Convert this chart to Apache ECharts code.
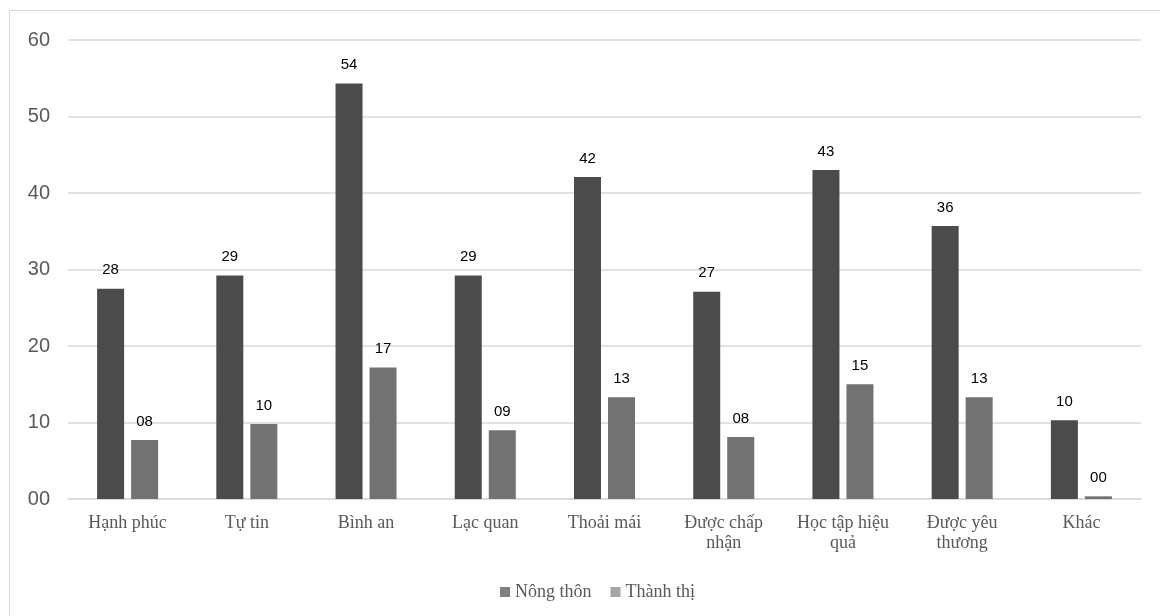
<!DOCTYPE html>
<html>
<head>
<meta charset="utf-8">
<script src="https://cdn.jsdelivr.net/npm/echarts@6/dist/echarts.min.js"></script>
<style>
html,body{margin:0;padding:0;background:#fff;}
#chart{width:1160px;height:616px;}
</style>
</head>
<body>
<div id="chart"></div>
<script>
const categories = ['Hạnh phúc', 'Tự tin', 'Bình an', 'Lạc quan', 'Thoải mái', 'Được chấp nhận', 'Học tập hiệu quả', 'Được yêu thương', 'Khác'];
const seriesNames = ['Nông thôn', 'Thành thị'];
const nongThon = [27.5, 29.2, 54.3, 29.2, 42.1, 27.1, 43.0, 35.7, 10.3];
const thanhThi = [7.7, 9.8, 17.2, 9.0, 13.3, 8.1, 15.0, 13.3, 0.35];
const yTicks = { min: 0, max: 60, interval: 10 };

const pad2 = v => String(Math.round(v)).padStart(2, '0');
// simple word wrap: at most 12 characters per line
function wrap(s) {
  const words = s.split(' ');
  const lines = [];
  let cur = '';
  words.forEach(w => {
    const t = cur ? cur + ' ' + w : w;
    if (t.length > 12 && cur) { lines.push(cur); cur = w; } else { cur = t; }
  });
  if (cur) lines.push(cur);
  return lines.join('\n');
}
const chart = echarts.init(document.getElementById('chart'));
const labelStyle = {
  show: true, position: 'top', distance: 11,
  fontFamily: 'Liberation Sans, Arial, sans-serif', fontSize: 15, color: '#000',
  formatter: p => pad2(p.value)
};
chart.setOption({
  animation: false,
  graphic: [{
    type: 'rect', shape: { x: 9.5, y: 10.5, width: 1170, height: 630 },
    style: { fill: 'none', stroke: '#d9d9d9', lineWidth: 1 }, silent: true
  }],
  grid: { left: 68, right: 19, top: 40, bottom: 117 },
  legend: {
    top: 578, left: 495,
    itemWidth: 10, itemHeight: 10, itemGap: 19,
    textStyle: { fontFamily: 'Liberation Serif, Times New Roman, serif', fontSize: 18, color: '#595959' },
    data: [
      { name: seriesNames[0], icon: 'rect', itemStyle: { color: '#808080' } },
      { name: seriesNames[1], icon: 'rect', itemStyle: { color: '#a6a6a6' } }
    ]
  },
  xAxis: {
    type: 'category', data: categories,
    axisLine: { lineStyle: { color: '#d9d9d9', width: 1.5 } },
    axisTick: { show: false },
    axisLabel: {
      interval: 0, margin: 14, lineHeight: 20, formatter: v => wrap(v),
      fontFamily: 'Liberation Serif, Times New Roman, serif', fontSize: 18, color: '#595959'
    }
  },
  yAxis: {
    type: 'value', min: yTicks.min, max: yTicks.max, interval: yTicks.interval,
    axisLine: { show: false }, axisTick: { show: false },
    splitLine: { lineStyle: { color: '#d9d9d9', width: 1.5 } },
    axisLabel: {
      margin: 18, fontFamily: 'Liberation Sans, Arial, sans-serif', fontSize: 20, color: '#595959',
      formatter: v => pad2(v)
    }
  },
  series: [
    { name: seriesNames[0], type: 'bar', data: nongThon, barWidth: 27, barGap: '26%',
      itemStyle: { color: '#4b4b4b' }, label: labelStyle },
    { name: seriesNames[1], type: 'bar', data: thanhThi, barWidth: 27, barGap: '26%',
      itemStyle: { color: '#727272' }, label: labelStyle }
  ]
});
</script>
</body>
</html>
